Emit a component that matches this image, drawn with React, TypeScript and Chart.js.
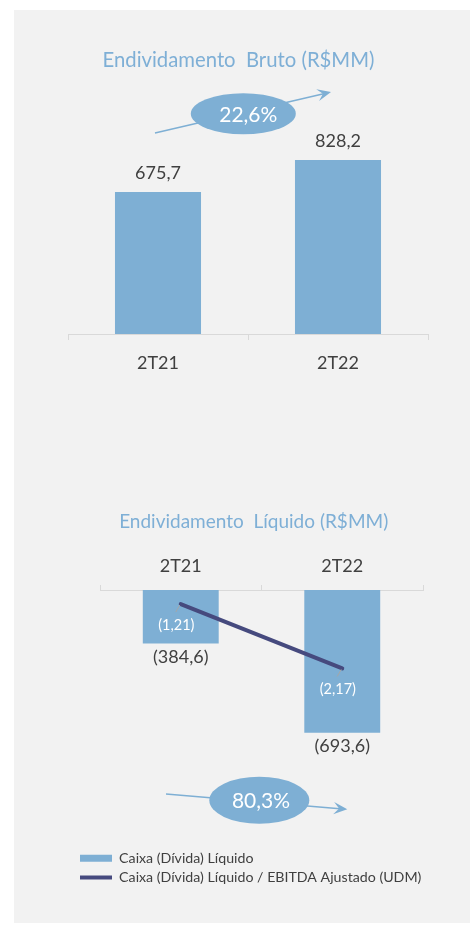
import React, { useEffect, useRef } from "react";
import { Chart, registerables } from "chart.js";

Chart.register(...registerables);

const FONT = "Lato, 'Open Sans', sans-serif";

// ---- Data: gross debt ----
const grossCategories = ["2T21", "2T22"];
const grossValues = [675.7, 828.2];
const grossTitle = "Endividamento  Bruto (R$MM)";
const grossGrowth = "22,6%";

// ---- Data: net debt ----
const netCategories = ["2T21", "2T22"];
const netCashValues = [-384.6, -693.6];
const netLeverageValues = [-1.21, -2.17];
const netTitle = "Endividamento  Líquido (R$MM)";
const netGrowth = "80,3%";
const netSeriesLabels = [
  "Caixa (Dívida) Líquido",
  "Caixa (Dívida) Líquido / EBITDA Ajustado (UDM)",
];

const BAR = "#7eafd4";
const LINE = "#464a7e";
const TEXT = "#404040";
const AXIS = "#d9d9d9";
const TITLE = "#7eafd6";

function fmt(v: number, d: number) {
  const s = Math.abs(v).toFixed(d).replace(".", ",");
  return v < 0 ? `(${s})` : s;
}

function drawArrow(ctx: CanvasRenderingContext2D, x1: number, y1: number, x2: number, y2: number) {
  const ang = Math.atan2(y2 - y1, x2 - x1);
  const head = 15;
  ctx.save();
  ctx.strokeStyle = BAR;
  ctx.fillStyle = BAR;
  ctx.lineWidth = 1.5;
  ctx.beginPath();
  ctx.moveTo(x1, y1);
  ctx.lineTo(x2 - Math.cos(ang) * head * 0.5, y2 - Math.sin(ang) * head * 0.5);
  ctx.stroke();
  ctx.beginPath();
  ctx.moveTo(x2, y2);
  ctx.lineTo(x2 - head * Math.cos(ang - 0.42), y2 - head * Math.sin(ang - 0.42));
  ctx.lineTo(x2 - head * 0.55 * Math.cos(ang), y2 - head * 0.55 * Math.sin(ang));
  ctx.lineTo(x2 - head * Math.cos(ang + 0.42), y2 - head * Math.sin(ang + 0.42));
  ctx.closePath();
  ctx.fill();
  ctx.restore();
}

function drawBubble(ctx: CanvasRenderingContext2D, cx: number, cy: number, rx: number, ry: number, text: string, tx: number, ty: number) {
  ctx.save();
  ctx.fillStyle = BAR;
  ctx.beginPath();
  ctx.ellipse(cx, cy, rx, ry, 0, 0, Math.PI * 2);
  ctx.fill();
  ctx.fillStyle = "#ffffff";
  ctx.font = `21px ${FONT}`;
  ctx.textAlign = "center";
  ctx.textBaseline = "alphabetic";
  ctx.fillText(text, tx, ty);
  ctx.restore();
}

function GrossChart() {
  const ref = useRef<HTMLCanvasElement | null>(null);
  useEffect(() => {
    if (!ref.current) return;
    const overlay = {
      id: "grossOverlay",
      afterDraw(chart: any) {
        const ctx: CanvasRenderingContext2D = chart.ctx;
        const area = chart.chartArea;
        const meta = chart.getDatasetMeta(0);
        ctx.save();
        // title
        ctx.fillStyle = TITLE;
        ctx.font = `20.3px ${FONT}`;
        ctx.textAlign = "center";
        ctx.textBaseline = "alphabetic";
        ctx.fillText(grossTitle, area.left + 170.5, area.top - 57);
        // value labels
        ctx.fillStyle = TEXT;
        ctx.font = `18px ${FONT}`;
        meta.data.forEach((bar: any, i: number) => {
          ctx.fillText(fmt(grossValues[i], 1), bar.x, bar.y - 13);
        });
        ctx.restore();
        const mid = (meta.data[0].x + meta.data[1].x) / 2;
        drawArrow(ctx, mid - 93, area.top + 9, mid + 83, area.top - 32);
        drawBubble(ctx, mid - 4.7, area.top - 10.3, 52.5, 20.5, grossGrowth, mid + 0.3, area.top - 2.5);
      },
    };
    const chart = new Chart(ref.current, {
      type: "bar",
      data: {
        labels: grossCategories,
        datasets: [
          {
            label: "Endividamento Bruto",
            data: grossValues,
            backgroundColor: BAR,
            borderWidth: 0,
            categoryPercentage: 1,
            barPercentage: 0.478,
          },
        ],
      },
      options: {
        responsive: false,
        animation: false,
        layout: { padding: { top: 124, left: 68, right: 42, bottom: 0 } },
        plugins: { legend: { display: false }, tooltip: { enabled: false }, title: { display: false } },
        scales: {
          x: {
            offset: true,
            grid: { offset: true, drawOnChartArea: false, drawTicks: true, tickLength: 6, color: AXIS },
            border: { color: AXIS, width: 1 },
            ticks: { color: TEXT, font: { family: FONT, size: 18 }, padding: 12 },
            afterFit: (s: any) => {
              s.height = 66;
            },
          },
          y: { display: false, min: 0, max: 1000 },
        },
      },
      plugins: [overlay],
    });
    return () => chart.destroy();
  }, []);
  return (
    <canvas
      ref={ref}
      width={470}
      height={400}
      style={{ position: "absolute", left: 0, top: 0, width: 470, height: 400 }}
    />
  );
}

function NetChart() {
  const ref = useRef<HTMLCanvasElement | null>(null);
  useEffect(() => {
    if (!ref.current) return;
    const overlay = {
      id: "netOverlay",
      afterDraw(chart: any) {
        const ctx: CanvasRenderingContext2D = chart.ctx;
        const area = chart.chartArea;
        const bars = chart.getDatasetMeta(0).data;
        const pts = chart.getDatasetMeta(1).data;
        ctx.save();
        // title
        ctx.fillStyle = TITLE;
        ctx.font = `19px ${FONT}`;
        ctx.textAlign = "center";
        ctx.textBaseline = "alphabetic";
        const mid = (bars[0].x + bars[1].x) / 2;
        ctx.fillText(netTitle, mid - 7.8, area.top - 61.7);
        // bar value labels
        ctx.fillStyle = TEXT;
        ctx.font = `18px ${FONT}`;
        bars.forEach((bar: any, i: number) => {
          ctx.fillText(fmt(netCashValues[i], 1), bar.x, bar.y + 19.4);
        });
        // line labels with leader lines
        pts.forEach((p: any, i: number) => {
          ctx.strokeStyle = "#a6a6a6";
          ctx.lineWidth = 1;
          ctx.beginPath();
          ctx.moveTo(p.x - 1, p.y + 1);
          ctx.lineTo(p.x - 5, p.y + 8);
          ctx.stroke();
          ctx.fillStyle = "#ffffff";
          ctx.font = `14.5px ${FONT}`;
          ctx.fillText(fmt(netLeverageValues[i], 2), p.x - 4.4, p.y + 26);
        });
        ctx.restore();
        drawArrow(ctx, mid - 95.5, area.top + 204, mid + 85.8, area.top + 219.3);
        drawBubble(ctx, mid - 2.2, area.top + 210.3, 50, 23.5, netGrowth, mid - 0.5, area.top + 217.5);
      },
    };
    const chart = new Chart(ref.current, {
      data: {
        labels: netCategories,
        datasets: [
          {
            type: "bar",
            label: netSeriesLabels[0],
            data: netCashValues,
            backgroundColor: BAR,
            borderWidth: 0,
            base: -200,
            yAxisID: "y",
            order: 1,
            categoryPercentage: 1,
            barPercentage: 0.47,
            pointStyle: "rect",
          } as any,
          {
            type: "line",
            label: netSeriesLabels[1],
            data: netLeverageValues,
            borderColor: LINE,
            backgroundColor: LINE,
            borderWidth: 4,
            borderCapStyle: "round",
            pointRadius: 0,
            yAxisID: "y2",
            order: 0,
            pointStyle: "line",
          } as any,
        ],
      },
      options: {
        responsive: false,
        animation: false,
        layout: { padding: { top: 70, left: 75, right: 47, bottom: 38.5 } },
        plugins: {
          title: { display: false },
          tooltip: { enabled: false },
          legend: {
            display: true,
            position: "bottom",
            align: "start",
            labels: {
              usePointStyle: true,
              pointStyleWidth: 32,
              boxHeight: 7,
              padding: 5,
              color: TEXT,
              font: { family: FONT, size: 14.2 },
              sort: (a: any, b: any) => a.datasetIndex - b.datasetIndex,
            },
          },
        },
        scales: {
          x: {
            position: "top",
            offset: true,
            grid: { offset: true, drawOnChartArea: false, drawTicks: true, tickLength: 5, color: AXIS },
            border: { color: AXIS, width: 1 },
            ticks: { color: TEXT, font: { family: FONT, size: 18 }, padding: 8 },
            afterFit: (s: any) => {
              s.height = 40;
            },
          },
          y: {
            position: "left",
            min: -1085,
            max: -200,
            grid: { display: false },
            border: { display: false },
            ticks: { display: false },
            afterFit: (s: any) => {
              s.width = 25;
            },
          },
          y2: { display: false, position: "right", min: -4.82, max: -1 },
        },
      } as any,
      plugins: [overlay],
    });
    return () => chart.destroy();
  }, []);
  return (
    <canvas
      ref={ref}
      width={470}
      height={453}
      style={{ position: "absolute", left: 0, top: 480, width: 470, height: 453 }}
    />
  );
}

export default function App() {
  return (
    <div style={{ position: "absolute", left: 0, top: 0, width: 470, height: 933, background: "#ffffff", fontFamily: FONT }}>
      <div style={{ position: "absolute", left: 14, top: 10, width: 456, height: 913, background: "#f2f2f2" }} />
      <GrossChart />
      <NetChart />
    </div>
  );
}
